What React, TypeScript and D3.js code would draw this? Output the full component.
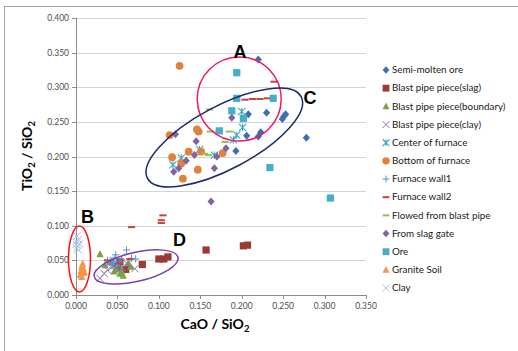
import React from "react";
import * as d3 from "d3";

const xTicks = [0, 0.05, 0.1, 0.15, 0.2, 0.25, 0.3, 0.35];
const yTicks = [0, 0.05, 0.1, 0.15, 0.2, 0.25, 0.3, 0.35, 0.4];

const semiMoltenOre = [[0.220,0.340],[0.208,0.261],[0.230,0.263],[0.249,0.254],[0.251,0.258],[0.253,0.261],[0.278,0.227],[0.206,0.230],[0.220,0.229],[0.223,0.235],[0.193,0.208]];
const blastSlag = [[0.053,0.048],[0.050,0.041],[0.060,0.037],[0.080,0.044],[0.100,0.052],[0.106,0.052],[0.111,0.055],[0.157,0.065],[0.202,0.071],[0.207,0.072]];
const blastBoundary = [[0.029,0.059],[0.042,0.047],[0.049,0.037],[0.053,0.031],[0.057,0.028],[0.063,0.046],[0.066,0.041],[0.046,0.034],[0.055,0.035],[0.035,0.043]];
const blastClay = [[0.029,0.024],[0.034,0.031],[0.038,0.036],[0.043,0.040],[0.047,0.043],[0.051,0.037],[0.056,0.040],[0.062,0.045],[0.071,0.038],[0.040,0.046]];
const centerFurnace = [[0.200,0.265],[0.201,0.242],[0.194,0.231],[0.190,0.224],[0.167,0.202],[0.149,0.210],[0.127,0.198],[0.117,0.188],[0.045,0.050],[0.050,0.044]];
const bottomFurnace = [[0.125,0.331],[0.113,0.231],[0.146,0.239],[0.148,0.236],[0.136,0.207],[0.151,0.207],[0.116,0.199],[0.127,0.190],[0.177,0.205],[0.147,0.181],[0.129,0.168]];
const furnaceWall1 = [[0.061,0.065],[0.067,0.053],[0.072,0.052],[0.047,0.053],[0.048,0.058],[0.038,0.050],[0.044,0.046],[0.052,0.047],[0.055,0.051]];
const furnaceWall2 = [[0.239,0.308],[0.204,0.282],[0.213,0.283],[0.222,0.283],[0.231,0.284],[0.067,0.098],[0.103,0.104],[0.103,0.108],[0.105,0.115],[0.065,0.052],[0.052,0.046],[0.038,0.050]];
const flowedBlast = [[0.161,0.268],[0.162,0.236],[0.172,0.236],[0.185,0.236],[0.180,0.221],[0.155,0.204],[0.160,0.202]];
const slagGate = [[0.120,0.232],[0.145,0.222],[0.188,0.256],[0.181,0.212],[0.143,0.202],[0.133,0.194],[0.124,0.183],[0.118,0.178],[0.167,0.183],[0.163,0.135],[0.170,0.200]];
const ore = [[0.194,0.321],[0.194,0.284],[0.238,0.284],[0.188,0.266],[0.202,0.255],[0.173,0.237],[0.234,0.184],[0.307,0.140]];
const graniteSoil = [[0.008,0.045],[0.007,0.041],[0.009,0.038],[0.006,0.035],[0.008,0.032],[0.005,0.029],[0.007,0.026],[0.010,0.033]];
const clay = [[0.001,0.085],[0.003,0.080],[0.000,0.077],[0.004,0.074],[0.002,0.071],[0.001,0.067],[0.003,0.065],[0.000,0.073]];

const seriesNames = ["Semi-molten ore","Blast pipe piece(slag)","Blast pipe piece(boundary)","Blast pipe piece(clay)","Center of furnace","Bottom of furnace","Furnace wall1","Furnace wall2","Flowed from blast pipe","From slag gate","Ore","Granite Soil","Clay"];
const seriesData = [semiMoltenOre, blastSlag, blastBoundary, blastClay, centerFurnace, bottomFurnace, furnaceWall1, furnaceWall2, flowedBlast, slagGate, ore, graniteSoil, clay];
const seriesShapes = ["diamond","square","triangle","x","asterisk","circle","plus","dash","dash","diamond","square","triangle","x"];
const seriesColors = ["#3F6FB0","#9B3A37","#7FA043","#8A70B0","#3FA6C2","#E0823A","#5B8FD6","#C8453F","#9BBB59","#8064A2","#45AFCB","#F79646","#A9C2E4"];

const annotationLabels = ["A","B","C","D"];
const annotationPos = [[0.198,0.351],[0.0139,0.114],[0.2825,0.2845],[0.125,0.0795]];
const ellipseCenters = [[0.197,0.283],[0.0042,0.052],[0.179,0.2275],[0.0725,0.0405]];

const W = 518, H = 351;
const x = d3.scaleLinear().domain([0, 0.35]).range([76, 366]);
const y = d3.scaleLinear().domain([0, 0.4]).range([295, 18]);

function Marker({ shape, color, cx, cy, s = 1 }) {
  const r = 3.6 * s;
  switch (shape) {
    case "diamond":
      return <path d={`M${cx},${cy - r - 0.4}L${cx + r},${cy}L${cx},${cy + r + 0.4}L${cx - r},${cy}Z`} fill={color} />;
    case "square":
      return <rect x={cx - r} y={cy - r} width={2 * r} height={2 * r} fill={color} />;
    case "triangle":
      return <path d={`M${cx},${cy - r - 0.5}L${cx + r},${cy + r - 0.5}L${cx - r},${cy + r - 0.5}Z`} fill={color} />;
    case "circle":
      return <circle cx={cx} cy={cy} r={r + 0.3} fill={color} />;
    case "x":
      return <path d={`M${cx - r},${cy - r}L${cx + r},${cy + r}M${cx - r},${cy + r}L${cx + r},${cy - r}`} stroke={color} strokeWidth={1} fill="none" />;
    case "plus":
      return <path d={`M${cx - r},${cy}L${cx + r},${cy}M${cx},${cy - r}L${cx},${cy + r}`} stroke={color} strokeWidth={1} fill="none" />;
    case "asterisk":
      return <path d={`M${cx - r},${cy - r}L${cx + r},${cy + r}M${cx - r},${cy + r}L${cx + r},${cy - r}M${cx},${cy - r}L${cx},${cy + r}`} stroke={color} strokeWidth={1.1} fill="none" />;
    case "dash":
      return <rect x={cx - r} y={cy - 1} width={2 * r} height={2} fill={color} />;
    default:
      return null;
  }
}

export default function App() {
  const font = "Lato, 'Open Sans', sans-serif";
  const order = [0, 1, 2, 3, 4, 5, 6, 7, 8, 9, 10, 11, 12];
  return (
    <svg width={W} height={H} style={{ position: "absolute", left: 0, top: 0, background: "#fff" }} fontFamily={font}>
      <rect x={0} y={0} width={W} height={H} fill="#fff" />
      <line x1={4} x2={W} y1={6.5} y2={6.5} stroke="#A6A6A6" strokeWidth={1} />
      <line x1={4.5} x2={4.5} y1={6.5} y2={H} stroke="#A6A6A6" strokeWidth={1} />
      {yTicks.filter(t => t > 0).map(t => (
        <line key={"g" + t} x1={x(0)} x2={x(0.35)} y1={Math.round(y(t)) + 0.5} y2={Math.round(y(t)) + 0.5} stroke="#D4D4D4" strokeWidth={1} />
      ))}
      <line x1={x(0)} x2={x(0.35)} y1={Math.round(y(0)) + 0.5} y2={Math.round(y(0)) + 0.5} stroke="#8C8C8C" />
      <line x1={Math.round(x(0)) + 0.5} x2={Math.round(x(0)) + 0.5} y1={y(0.4)} y2={y(0)} stroke="#8C8C8C" />
      {yTicks.map(t => (
        <line key={"yt" + t} x1={x(0) - 4} x2={x(0)} y1={Math.round(y(t)) + 0.5} y2={Math.round(y(t)) + 0.5} stroke="#8C8C8C" />
      ))}
      {xTicks.map(t => (
        <line key={"xt" + t} x1={Math.round(x(t)) + 0.5} x2={Math.round(x(t)) + 0.5} y1={y(0)} y2={y(0) + 4} stroke="#8C8C8C" />
      ))}
      {yTicks.map(t => (
        <text key={"yl" + t} x={x(0) - 7} y={y(t) + 3} fontSize={8.5} textAnchor="end" fill="#4D4D4D">{d3.format(".3f")(t)}</text>
      ))}
      {xTicks.map(t => (
        <text key={"xl" + t} x={x(t)} y={y(0) + 14} fontSize={8.5} textAnchor="middle" fill="#4D4D4D">{d3.format(".3f")(t)}</text>
      ))}
      <text x={215} y={329} fontSize={14} fontWeight="bold" textAnchor="middle" fill="#000">
        CaO / SiO<tspan fontSize={9.5} dy={3}>2</tspan>
      </text>
      <text transform={`translate(32,156) rotate(-90)`} fontSize={14} fontWeight="bold" textAnchor="middle" fill="#000">
        TiO<tspan fontSize={9.5} dy={3}>2</tspan><tspan dy={-3}> / SiO</tspan><tspan fontSize={9.5} dy={3}>2</tspan>
      </text>
      {order.map(i => (
        <g key={"s" + i}>
          {seriesData[i].map((d, j) => (
            <Marker key={j} shape={seriesShapes[i]} color={seriesColors[i]} cx={x(d[0])} cy={y(d[1])} />
          ))}
        </g>
      ))}
      <ellipse cx={x(ellipseCenters[0][0])} cy={y(ellipseCenters[0][1])} rx={42} ry={42} fill="none" stroke="#F0176A" strokeWidth={1.5} />
      <ellipse cx={x(ellipseCenters[1][0])} cy={y(ellipseCenters[1][1])} rx={11} ry={33} fill="none" stroke="#FF1010" strokeWidth={1.5} />
      <ellipse transform={`rotate(-28 ${x(ellipseCenters[2][0])} ${y(ellipseCenters[2][1])})`} cx={x(ellipseCenters[2][0])} cy={y(ellipseCenters[2][1])} rx={87} ry={31.5} fill="none" stroke="#1B2A6B" strokeWidth={1.5} />
      <ellipse transform={`rotate(-13 ${x(ellipseCenters[3][0])} ${y(ellipseCenters[3][1])})`} cx={x(ellipseCenters[3][0])} cy={y(ellipseCenters[3][1])} rx={43} ry={14.5} fill="none" stroke="#7B3FB0" strokeWidth={1.5} />
      {annotationLabels.map((l, i) => (
        <text key={l} x={x(annotationPos[i][0])} y={y(annotationPos[i][1]) + 6.5} fontSize={18} fontWeight="bold" textAnchor="middle" fill="#000" fontFamily="'Liberation Sans', Arial, sans-serif">{l}</text>
      ))}
      {seriesNames.map((n, i) => {
        const ly = 70 + i * 18.17;
        return (
          <g key={"lg" + i}>
            <Marker shape={seriesShapes[i]} color={seriesColors[i]} cx={386} cy={ly} s={0.95} />
            <text x={392} y={ly + 3.3} fontSize={9.8} fill="#1A1A1A">{n}</text>
          </g>
        );
      })}
    </svg>
  );
}
